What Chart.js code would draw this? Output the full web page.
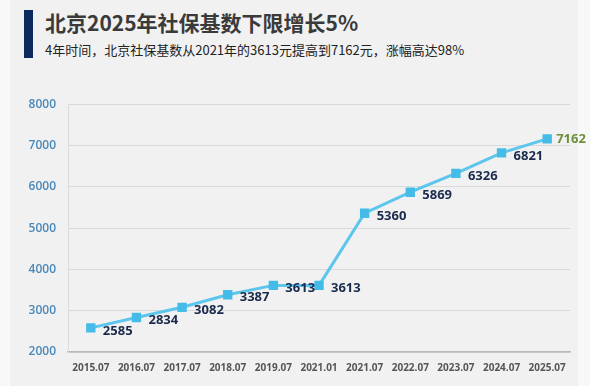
<!DOCTYPE html>
<html>
<head>
<meta charset="utf-8">
<script src="https://cdn.jsdelivr.net/npm/chart.js@4.4.1/dist/chart.umd.min.js"></script>
<style>
  html, body { margin: 0; padding: 0; background: #f8f8f8; }
  body { width: 590px; height: 386px; position: relative; overflow: hidden;
         font-family: "Noto Sans CJK SC", "Noto Sans", sans-serif; }
  #panel { position: absolute; left: 10px; top: 0; width: 568px; height: 386px; background: #f1f1f1; }
  #bar { position: absolute; left: 24px; top: 10px; width: 9px; height: 48px; background: #0d2a5e; }
  #title { position: absolute; left: 45px; top: 7px; font-size: 21px; font-weight: bold; color: #3a3a3a; white-space: nowrap; }
  #subtitle { position: absolute; left: 45px; top: 40px; font-size: 13px; color: #222; white-space: nowrap; }
  #wrap { position: absolute; left: 0; top: 85px; width: 590px; height: 301px; }
</style>
</head>
<body>
<div id="panel"></div>
<div id="bar"></div>
<div id="title">北京2025年社保基数下限增长5%</div>
<div id="subtitle">4年时间，北京社保基数从2021年的3613元提高到7162元，涨幅高达98%</div>
<div id="wrap"><canvas id="chart"></canvas></div>
<script>
// social security base lower limit, yuan/month
const periods = ['2015.07', '2016.07', '2017.07', '2018.07', '2019.07', '2021.01', '2021.07', '2022.07', '2023.07', '2024.07', '2025.07'];
const baseLower = [2585, 2834, 3082, 3387, 3613, 3613, 5360, 5869, 6326, 6821, 7162];
const yTicks = [2000, 3000, 4000, 5000, 6000, 7000, 8000];

// draws the value next to each marker
const valueLabels = {
  id: 'valueLabels',
  afterDatasetsDraw(chart) {
    const ctx = chart.ctx;
    const meta = chart.getDatasetMeta(0);
    ctx.save();
    ctx.textAlign = 'left';
    ctx.textBaseline = 'middle';
    meta.data.forEach((pt, i) => {
      const last = i === baseLower.length - 1;
      ctx.font = 'bold 13px "Noto Sans", "DejaVu Sans", sans-serif';
      ctx.fillStyle = last ? '#6f8f3c' : '#1b2b4d';
      const dy = last ? 0 : 3;
      ctx.fillText(String(baseLower[i]), pt.x + (last ? 9 : 12), pt.y + dy);
    });
    ctx.restore();
  }
};

new Chart(document.getElementById('chart'), {
  type: 'line',
  data: {
    labels: periods,
    datasets: [{
      data: baseLower,
      borderColor: '#5cc6ec',
      borderWidth: 3,
      pointStyle: 'rect',
      pointRadius: 4.5,
      pointBackgroundColor: '#45bbe8',
      pointBorderColor: '#45bbe8',
      tension: 0,
      fill: false
    }]
  },
  options: {
    responsive: true,
    maintainAspectRatio: false,
    animation: false,
    layout: { padding: { top: 19, right: 20, left: 0, bottom: 0 } },
    plugins: { legend: { display: false }, tooltip: { enabled: false } },
    scales: {
      x: {
        offset: true,
        grid: { display: false, drawTicks: false },
        border: { display: true, color: '#b8b8b8', width: 1.5 },
        ticks: {
          padding: 10,
          maxRotation: 0,
          autoSkip: false,
          color: '#555',
          font: { size: 10, weight: 'bold', family: '"Open Sans", "Noto Sans", sans-serif' }
        },
        afterFit(scale) { scale.height = 34; }
      },
      y: {
        min: 2000,
        max: 8000,
        afterBuildTicks(scale) { scale.ticks = yTicks.map(v => ({ value: v })); },
        grid: { color: '#d9d9d9', lineWidth: 1, drawTicks: false },
        border: { display: true, color: '#dcdcdc' },
        ticks: {
          padding: 12,
          color: '#4a88b8',
          callback: v => String(v),
          font: { size: 12, weight: '600', family: '"Open Sans", "Noto Sans", sans-serif' }
        },
        afterFit(scale) { scale.width = 68; }
      }
    }
  },
  plugins: [valueLabels]
});
</script>
</body>
</html>
